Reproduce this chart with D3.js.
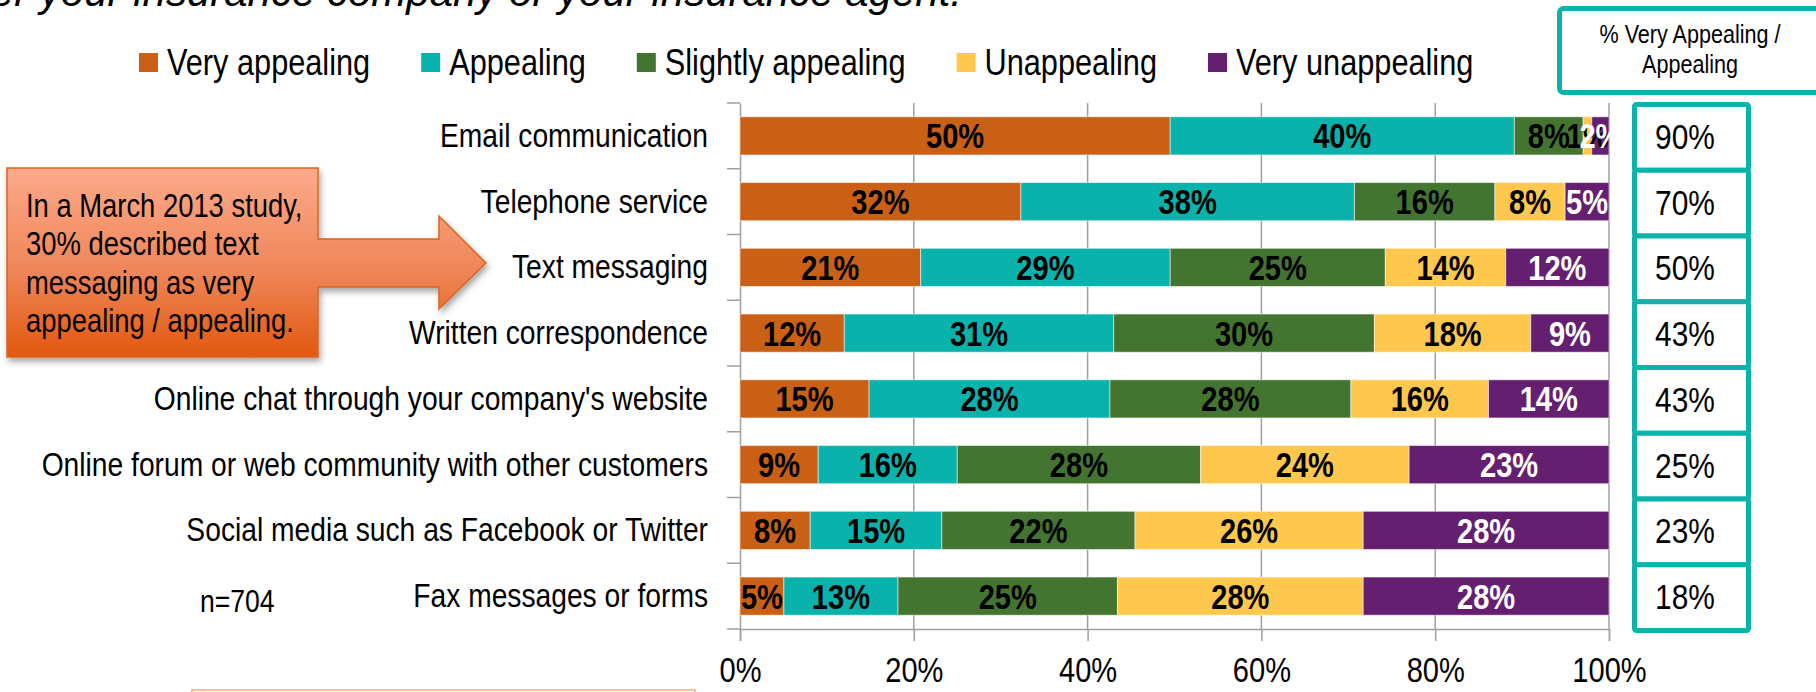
<!DOCTYPE html>
<html>
<head>
<meta charset="utf-8">
<script src="https://cdn.jsdelivr.net/npm/d3@7"></script>
<style>
  body { margin: 0; background: #fff; }
  svg text { font-family: "Liberation Sans", Arial, sans-serif; }
</style>
</head>
<body>
<div id="chart"></div>
<script>
// chart data
var categories = [
   "Email communication",
   "Telephone service",
   "Text messaging",
   "Written correspondence",
   "Online chat through your company's website",
   "Online forum or web community with other customers",
   "Social media such as Facebook or Twitter",
   "Fax messages or forms"
];
var seriesNames = ["Very appealing", "Appealing", "Slightly appealing", "Unappealing", "Very unappealing"];
var veryAppealing = [50, 32, 21, 12, 15, 9, 8, 5];
var appealing = [40, 38, 29, 31, 28, 16, 15, 13];
var slightlyAppealing = [8, 16, 25, 30, 28, 28, 22, 25];
var unappealing = [1, 8, 14, 18, 16, 24, 26, 28];
var veryUnappealing = [2, 5, 12, 9, 14, 23, 28, 28];
var topTwoBox = [90, 70, 50, 43, 43, 25, 23, 18];
var xTicks = [0, 20, 40, 60, 80, 100];

var colors = ["#CA5F16", "#09B2AA", "#437530", "#FEC84F", "#651F71"];
var teal = "#0BB3AA";

// the source uses a condensed face; squeeze the regular one horizontally
var squeeze = 0.83;
function narrow(sel) {
   sel.each(function () {
      var t = d3.select(this);
      var xv = +t.attr("x") || 0;
      t.attr("x", xv / squeeze).attr("transform", "scale(" + squeeze + ",1)");
   });
}

var svgWidth = 1816;
var svgHeight = 692;

var svg = d3.select("#chart")
   .append("svg")
   .attr("width", svgWidth)
   .attr("height", svgHeight);

var defs = svg.append("defs");
var grad = defs.append("linearGradient")
   .attr("id", "calloutGrad")
   .attr("gradientUnits", "userSpaceOnUse")
   .attr("x1", 0).attr("y1", 168).attr("x2", 0).attr("y2", 357);
grad.append("stop").attr("offset", "0%").attr("stop-color", "#FCAA8B");
grad.append("stop").attr("offset", "55%").attr("stop-color", "#EF8558");
grad.append("stop").attr("offset", "100%").attr("stop-color", "#E2580E");

var shadow = defs.append("filter").attr("id", "shadow")
   .attr("x", "-10%").attr("y", "-10%").attr("width", "130%").attr("height", "130%");
shadow.append("feDropShadow")
   .attr("dx", 2).attr("dy", 4).attr("stdDeviation", 3)
   .attr("flood-color", "#000").attr("flood-opacity", 0.35);

// scales
var x = d3.scaleLinear().domain([0, 1]).range([740, 1609]);
var y = d3.scaleBand().domain(categories).range([103, 629])
   .paddingInner(0.42).paddingOuter(0.21);

// cut-off title line at very top
svg.append("text")
   .attr("x", 962)
   .attr("y", 6)
   .attr("text-anchor", "end")
   .attr("font-style", "italic")
   .attr("font-size", 42)
   .text("either your insurance company or your insurance agent.");

// legend
var legend = svg.append("g");
var lx = 139;
seriesNames.forEach(function (name, i) {
   legend.append("rect")
      .attr("x", lx).attr("y", 53)
      .attr("width", 19).attr("height", 19)
      .attr("fill", colors[i]);
   var t = legend.append("text")
      .attr("x", lx + 28).attr("y", 75)
      .attr("font-size", 37)
      .text(name);
   var w = t.node().getComputedTextLength() * squeeze;
   t.call(narrow);
   lx += 28 + w + 51;
});

// gridlines
svg.append("g")
   .selectAll("line")
   .data(xTicks.slice(1))
   .enter()
   .append("line")
   .attr("x1", d => x(d / 100)).attr("x2", d => x(d / 100))
   .attr("y1", 103).attr("y2", 629)
   .attr("stroke", "#A0A0A0")
   .attr("stroke-width", 1.5);

// bottom axis
var bottomAxis = d3.axisBottom(x)
   .tickValues(xTicks.map(d => d / 100))
   .tickFormat(d => Math.round(d * 100) + "%")
   .tickSize(12)
   .tickPadding(16);
var xAxis = svg.append("g")
   .attr("transform", "translate(0, 629)")
   .call(bottomAxis);
xAxis.selectAll("line, path").attr("stroke", "#A0A0A0").attr("stroke-width", 1.5);
xAxis.selectAll("text").attr("font-size", 35).attr("fill", "#000").call(narrow);

// left axis
var leftAxis = d3.axisLeft(y).tickSize(0).tickPadding(32);
var yAxis = svg.append("g")
   .attr("transform", "translate(740, 0)")
   .call(leftAxis);
yAxis.select(".domain").attr("stroke", "#A0A0A0").attr("stroke-width", 1.5);
yAxis.selectAll("text").attr("font-size", 34).attr("fill", "#000").call(narrow);

// category boundary ticks
svg.append("g")
   .selectAll("line")
   .data(d3.range(categories.length + 1))
   .enter()
   .append("line")
   .attr("x1", 727).attr("x2", 740)
   .attr("y1", d => 103 + d * y.step())
   .attr("y2", d => 103 + d * y.step())
   .attr("stroke", "#A0A0A0")
   .attr("stroke-width", 1.5);

// stacked bars
var rows = categories.map(function (c, i) {
   return {
      cat: c,
      "Very appealing": veryAppealing[i],
      "Appealing": appealing[i],
      "Slightly appealing": slightlyAppealing[i],
      "Unappealing": unappealing[i],
      "Very unappealing": veryUnappealing[i]
   };
});
var stacked = d3.stack().keys(seriesNames).offset(d3.stackOffsetExpand)(rows);

var layers = svg.append("g")
   .selectAll("g")
   .data(stacked)
   .enter()
   .append("g")
   .attr("fill", (d, i) => colors[i]);

layers.selectAll("rect")
   .data(d => d)
   .enter()
   .append("rect")
   .attr("x", d => x(d[0]))
   .attr("y", d => y(d.data.cat))
   .attr("width", d => x(d[1]) - x(d[0]))
   .attr("height", y.bandwidth())
   .attr("stroke", "rgba(255,255,255,0.5)")
   .attr("stroke-width", 1);

// bar labels
var labels = svg.append("g");
stacked.forEach(function (layer, i) {
   labels.selectAll(null)
      .data(layer)
      .enter()
      .append("text")
      .attr("x", d => (x(d[0]) + x(d[1])) / 2)
      .attr("y", d => y(d.data.cat) + y.bandwidth() / 2)
      .attr("dy", "0.36em")
      .attr("text-anchor", "middle")
      .attr("font-size", 35)
      .attr("font-weight", "bold")
      .attr("fill", i === 4 ? "#fff" : "#000")
      .text(d => d.data[layer.key] + "%")
      .call(narrow);
});

// % very appealing / appealing column
var header = svg.append("g");
header.append("rect")
   .attr("x", 1559.5).attr("y", 8.5)
   .attr("width", 290).attr("height", 84)
   .attr("rx", 4)
   .attr("fill", "#fff")
   .attr("stroke", teal)
   .attr("stroke-width", 5);
header.append("text")
   .attr("x", 1690).attr("y", 43)
   .attr("text-anchor", "middle")
   .attr("font-size", 26)
   .text("% Very Appealing /")
   .call(narrow);
header.append("text")
   .attr("x", 1690).attr("y", 73)
   .attr("text-anchor", "middle")
   .attr("font-size", 26)
   .text("Appealing")
   .call(narrow);

var valCol = svg.append("g");
valCol.selectAll("rect")
   .data(categories)
   .enter()
   .append("rect")
   .attr("x", 1634.5)
   .attr("y", (d, i) => 104.5 + i * y.step())
   .attr("width", 114)
   .attr("height", y.step())
   .attr("rx", 2)
   .attr("fill", "#fff")
   .attr("stroke", teal)
   .attr("stroke-width", 5);
valCol.selectAll("text")
   .data(topTwoBox)
   .enter()
   .append("text")
   .attr("x", 1685)
   .attr("y", (d, i) => y(categories[i]) + y.bandwidth() / 2)
   .attr("dy", "0.36em")
   .attr("text-anchor", "middle")
   .attr("font-size", 36)
   .text(d => d + "%")
   .call(narrow);

// callout with arrow
var callout = svg.append("g");
callout.append("path")
   .attr("d", "M7,168 H318 V239 H439 V216 L486,263 L439,309 V287 H318 V357 H7 Z")
   .attr("fill", "url(#calloutGrad)")
   .attr("stroke", "#D8661F")
   .attr("stroke-width", 1.5)
   .attr("filter", "url(#shadow)");
var calloutLines = ["In a March 2013 study,", "30% described text", "messaging as very", "appealing / appealing."];
callout.selectAll("text")
   .data(calloutLines)
   .enter()
   .append("text")
   .attr("x", 26)
   .attr("y", (d, i) => 217 + i * 38.3)
   .attr("font-size", 33)
   .text(d => d)
   .call(narrow);

// sample size note
svg.append("text")
   .attr("x", 200).attr("y", 612)
   .attr("font-size", 32)
   .text("n=704")
   .call(narrow);

// bottom cut-off box edge
svg.append("rect")
   .attr("x", 192).attr("y", 690)
   .attr("width", 503).attr("height", 20)
   .attr("fill", "none")
   .attr("stroke", "#F6BE9C")
   .attr("stroke-width", 2);
</script>
</body>
</html>
